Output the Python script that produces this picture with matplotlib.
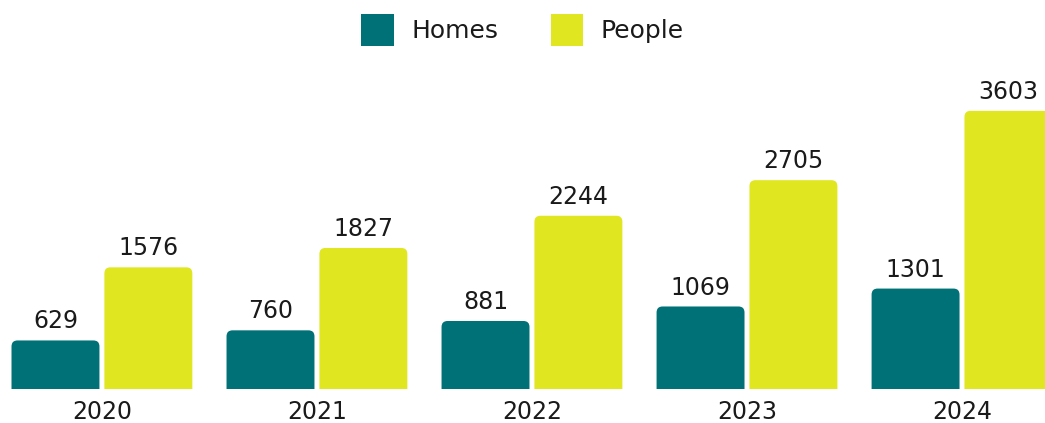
import matplotlib.pyplot as plt
from matplotlib.patches import FancyBboxPatch, Patch
import numpy as np

years = ["2020", "2021", "2022", "2023", "2024"]
homes = [629, 760, 881, 1069, 1301]
people = [1576, 1827, 2244, 2705, 3603]

teal = "#007176"
lime = "#E0E620"

plt.rcParams["font.family"] = ["DejaVu Sans"]

W, H = 1045, 423
fig = plt.figure(figsize=(W / 100, H / 100), dpi=100)
ax = fig.add_axes([0, 34 / H, 1, 1 - 34 / H])

x = np.arange(len(years))
bar_w = 0.409
off = 0.216
ymax = 5039
ax.set_xlim(-0.474, 4.386)
ax.set_ylim(0, ymax)

# pixels per unit, for rounding the corners
px_x = W / (4.386 + 0.474)
px_y = (H - 34) / ymax
aspect = px_x / px_y
r = 6 / px_x


def rounded_bars(xs, vals, color):
    for xi, v in zip(xs, vals):
        p = FancyBboxPatch((xi - bar_w / 2, -r * aspect * 2), bar_w, v + r * aspect * 2,
                           boxstyle=f"round,pad=0,rounding_size={r}",
                           mutation_aspect=aspect, facecolor=color, edgecolor="none")
        ax.add_patch(p)
        ax.annotate(str(v), (xi, v), xytext=(0, 5), textcoords="offset points",
                    ha="center", va="bottom", fontsize=17, color="#1a1a1a")


rounded_bars(x - off, homes, teal)
rounded_bars(x + off, people, lime)

ax.set_xticks(x)
ax.set_xticklabels(years, fontsize=17, color="#1a1a1a")
ax.tick_params(axis="x", length=0, pad=8)
ax.set_yticks([])
for s in ax.spines.values():
    s.set_visible(False)

handles = [Patch(facecolor=teal, edgecolor="none"), Patch(facecolor=lime, edgecolor="none")]
fig.legend(handles, ["Homes", "People"], loc="upper center", bbox_to_anchor=(0.5, 1.02),
           ncol=2, frameon=False, fontsize=18, handlelength=1.3, handleheight=1.6,
           handletextpad=0.7, columnspacing=2.1, labelcolor="#1a1a1a")

fig.savefig("out.png", dpi=100)
